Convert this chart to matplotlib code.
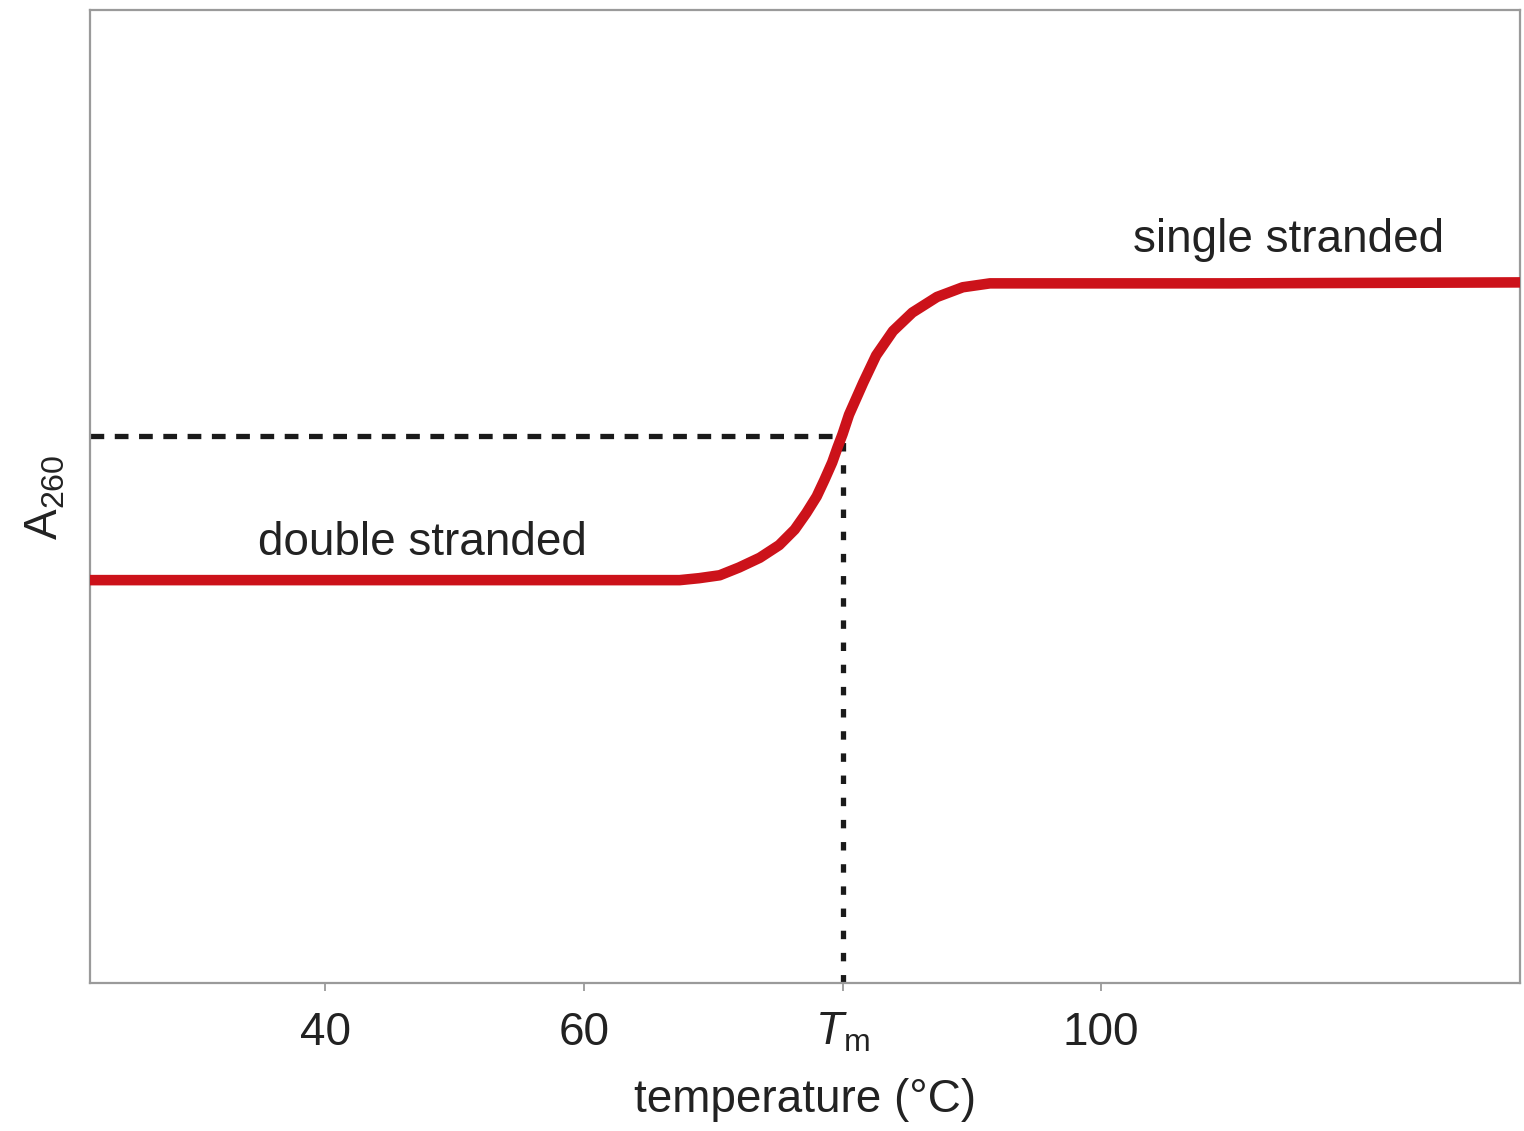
import matplotlib
matplotlib.use("Agg")
import matplotlib.pyplot as plt

plt.rcParams["font.family"] = ["Liberation Sans", "DejaVu Sans"]
plt.rcParams["mathtext.fontset"] = "custom"
plt.rcParams["mathtext.rm"] = "Liberation Sans"
plt.rcParams["mathtext.it"] = "Liberation Sans:italic"

# melting curve (temperature in C, A260 in arbitrary units)
temp = [21.8, 40.0, 61.2, 67.4, 68.9, 70.5, 72.0, 73.6, 75.1, 76.3, 77.2, 78.0,
        78.6, 79.2, 79.6, 80.0, 80.5, 81.6, 82.6, 83.9, 85.4, 87.3, 89.3, 91.4,
        93.7, 110.0, 132.4]
a260 = [0.414, 0.414, 0.414, 0.414, 0.416, 0.419, 0.427, 0.437, 0.450, 0.466, 0.483, 0.500,
        0.517, 0.535, 0.550, 0.564, 0.584, 0.617, 0.645, 0.670, 0.689, 0.705, 0.715, 0.719,
        0.719, 0.719, 0.720]

tm = 80.0
a_tm = 0.562
tick_vals = [40, 60, 80, 100]
tick_labels = ["40", "60", r"$\mathit{T}_{\mathrm{m}}$", "100"]

text_color = "#222222"
axis_color = "#9a9a9a"

fig = plt.figure(figsize=(15.24, 11.31), dpi=100)
ax = fig.add_axes([0.0591, 0.1309, 0.9383, 0.8603])

# dashed guides to the midpoint
ax.plot([21.8, tm], [a_tm, a_tm], color="#1a1a1a", lw=3.8,
        dashes=(2.6, 2.0), solid_capstyle="butt", zorder=2)
ax.plot([tm, tm], [0.0, a_tm - 0.005], color="#1a1a1a", lw=3.8,
        dashes=(1.6, 2.6), solid_capstyle="butt", zorder=2)

ax.plot(temp, a260, color="#cc121a", lw=7.6, solid_capstyle="round",
        solid_joinstyle="round", zorder=3)

ax.text(114.5, 0.764, "single stranded", fontsize=33, color=text_color,
        ha="center", va="center")
ax.text(47.5, 0.452, "double stranded", fontsize=33, color=text_color,
        ha="center", va="center")

ax.set_xlim(21.8, 132.4)
ax.set_ylim(0, 1)
ax.set_xticks(tick_vals)
ax.set_xticklabels(tick_labels)
ax.set_yticks([])

ax.tick_params(axis="x", direction="out", length=6, width=1.3, color=axis_color,
               labelsize=33, labelcolor=text_color, pad=14)
for sp in ax.spines.values():
    sp.set_color(axis_color)
    sp.set_linewidth(1.6)

ax.set_xlabel("temperature (°C)", fontsize=33, color=text_color, va="center")
ax.xaxis.set_label_coords(0.5, -0.120)
ax.set_ylabel(r"A$_{260}$", fontsize=33, color=text_color, va="center")
ax.yaxis.set_label_coords(-0.0315, 0.4995)

fig.savefig("out.png", dpi=100)
